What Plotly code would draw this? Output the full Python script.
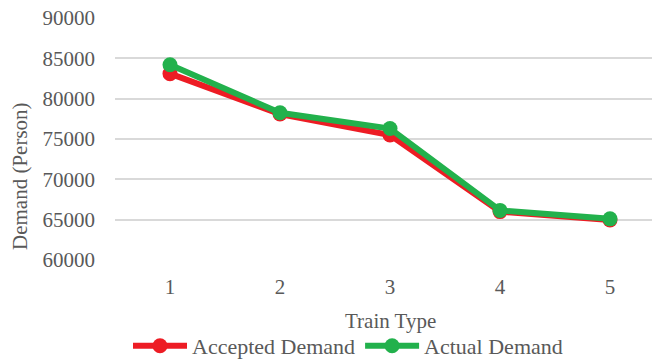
import plotly.graph_objects as go

# Demand by train type
train_types = [1, 2, 3, 4, 5]
accepted_demand = [83100, 78100, 75500, 66000, 64950]
actual_demand = [84200, 78250, 76300, 66150, 65100]
y_ticks = [60000, 65000, 70000, 75000, 80000, 85000, 90000]

FONT = "Liberation Serif"
TEXT = "#595959"
W, H = 652, 360
L, R, T, B = 115, 0, 18, 100
plot_w = W - L - R
plot_h = H - T - B

fig = go.Figure()
fig.add_trace(go.Scatter(
    x=train_types, y=accepted_demand, name="Accepted Demand",
    mode="lines+markers",
    line=dict(color="#ED1C24", width=6),
    marker=dict(color="#ED1C24", size=15),
))
fig.add_trace(go.Scatter(
    x=train_types, y=actual_demand, name="Actual Demand",
    mode="lines+markers",
    line=dict(color="#22B14C", width=6),
    marker=dict(color="#22B14C", size=15),
))

# category spacing of 110 px, first category centred 55 px from the left edge
step = 110.0
x_min = 0.5
x_max = x_min + plot_w / step

def px_to_paper_y(py):
    return (H - B - py) / plot_h

def px_to_paper_x(px):
    return (px - L) / plot_w

fig.update_layout(
    width=W, height=H,
    margin=dict(l=L, r=R, t=T, b=B, autoexpand=False),
    paper_bgcolor="white", plot_bgcolor="white",
    font=dict(family=FONT, size=21, color=TEXT),
    showlegend=True,
    legend=dict(
        orientation="h",
        x=px_to_paper_x(348), xanchor="center",
        y=px_to_paper_y(346), yanchor="middle",
        font=dict(family=FONT, size=22, color=TEXT),
        itemwidth=54,
        tracegroupgap=0,
        bgcolor="rgba(0,0,0,0)",
    ),
    xaxis=dict(
        range=[x_min, x_max],
        tickmode="array", tickvals=train_types,
        ticktext=[str(t) for t in train_types],
        showgrid=False, zeroline=False, showline=False,
        ticks="", ticklabelstandoff=12, automargin=False,
        tickfont=dict(family=FONT, size=21, color=TEXT),
        fixedrange=True,
    ),
    yaxis=dict(
        range=[60000, 90000],
        tickmode="array", tickvals=y_ticks,
        ticktext=[str(v) for v in y_ticks],
        showgrid=True, gridcolor="#D9D9D9", gridwidth=1.5,
        zeroline=False, showline=False,
        ticks="", ticklabelstandoff=19, automargin=False,
        tickfont=dict(family=FONT, size=21, color=TEXT),
        fixedrange=True,
    ),
    annotations=[
        dict(text="Train Type", xref="x", x=3, yref="paper",
             y=px_to_paper_y(321), xanchor="center", yanchor="middle",
             showarrow=False, font=dict(family=FONT, size=21, color=TEXT)),
        dict(text="Demand (Person)", xref="paper", x=px_to_paper_x(20),
             yref="paper", y=px_to_paper_y(176), textangle=-90,
             xanchor="center", yanchor="middle",
             showarrow=False, font=dict(family=FONT, size=21, color=TEXT)),
    ],
)

fig.write_html("out.html")
